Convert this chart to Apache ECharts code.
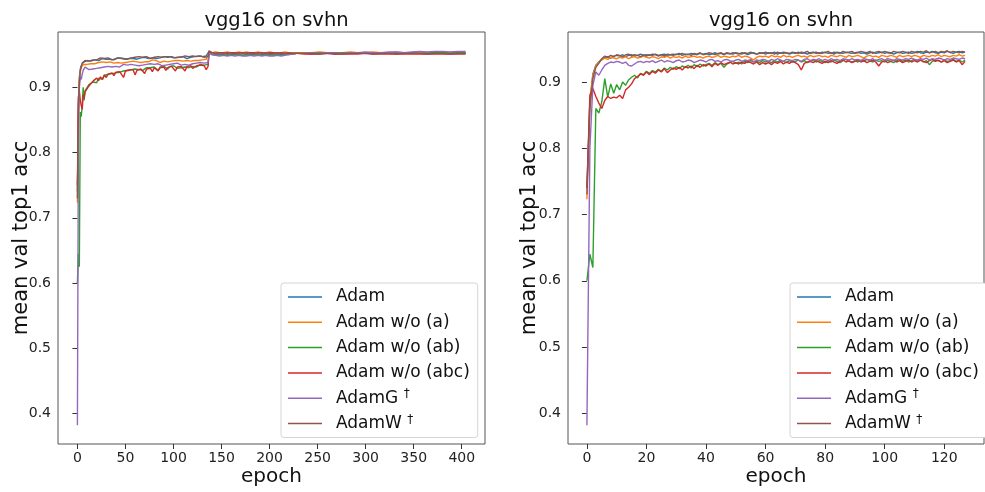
<!DOCTYPE html>
<html>
<head>
<meta charset="utf-8">
<script src="https://cdn.jsdelivr.net/npm/echarts@6/dist/echarts.min.js"></script>
<style>html,body{margin:0;padding:0;background:#fff}#c{width:985px;height:492px}</style>
</head>
<body>
<div id="c"></div>
<script>
// ---------- data ----------
const seriesNames = ['Adam', 'Adam w/o (a)', 'Adam w/o (ab)', 'Adam w/o (abc)', 'AdamG', 'AdamW'];
const chartTitle = 'vgg16 on svhn';
const xTicksLeft = [0, 50, 100, 150, 200, 250, 300, 350, 400];
const xTicksRight = [0, 20, 40, 60, 80, 100, 120];
const yTicks = [0.4, 0.5, 0.6, 0.7, 0.8, 0.9];

// left panel: epochs sampled (dense where noisy)
const leftEpochs = [0,1,2,3,4,5,6,7,8,
10,12,14,16,18,20,22,24,26,28,30,32,34,36,38,40,
42,44,46,48,50,52,54,56,58,60,62,64,66,68,70,72,
74,76,78,80,82,84,86,88,90,92,94,96,98,100,102,104,
106,108,110,112,114,116,118,120,122,124,126,128,130,132,134,136,
137,138,
140,144,148,152,156,160,164,168,172,176,180,184,188,192,196,200,204,208,212,216,220,224,228,
236,244,252,260,268,276,284,292,300,308,316,324,332,340,348,356,364,372,380,388,396,404];

const leftAdam = [0.740,0.870,0.915,0.928,0.933,0.936,0.938,0.940,0.939,
0.941,0.942,0.940,0.943,0.942,0.944,0.941,0.943,0.944,0.942,0.943,0.945,0.943,0.944,0.942,0.944,
0.945,0.943,0.944,0.946,0.943,0.945,0.944,0.946,0.944,0.945,0.943,0.946,0.945,0.944,0.946,0.945,
0.944,0.946,0.945,0.947,0.944,0.946,0.945,0.944,0.947,0.945,0.946,0.944,0.947,0.946,0.945,0.947,
0.946,0.945,0.947,0.946,0.944,0.947,0.946,0.945,0.947,0.946,0.948,0.945,0.947,0.946,0.948,0.946,
0.955,0.952,
0.951,0.950,0.951,0.950,0.949,0.950,0.951,0.950,0.949,0.950,0.951,0.950,0.949,0.950,0.950,0.951,0.949,0.950,0.950,0.951,0.950,0.951,0.952,
0.952,0.951,0.952,0.952,0.951,0.952,0.953,0.952,0.952,0.953,0.952,0.953,0.952,0.953,0.953,0.952,0.953,0.953,0.954,0.953,0.953,0.953];

const leftNoA = [0.723,0.876,0.910,0.924,0.930,0.933,0.935,0.934,0.936,
0.935,0.937,0.936,0.938,0.936,0.937,0.938,0.936,0.939,0.937,0.938,0.936,0.939,0.938,0.937,0.939,
0.938,0.940,0.937,0.939,0.938,0.940,0.939,0.937,0.940,0.938,0.939,0.941,0.938,0.940,0.939,0.941,
0.939,0.940,0.942,0.939,0.941,0.940,0.938,0.941,0.940,0.942,0.939,0.941,0.940,0.942,0.941,0.939,
0.941,0.942,0.940,0.942,0.941,0.943,0.940,0.942,0.941,0.943,0.941,0.939,0.942,0.941,0.943,0.940,
0.954,0.953,
0.953,0.954,0.953,0.953,0.954,0.953,0.953,0.954,0.953,0.954,0.953,0.953,0.954,0.953,0.953,0.954,0.953,0.953,0.953,0.954,0.953,0.953,0.953,
0.953,0.953,0.954,0.953,0.953,0.953,0.954,0.953,0.953,0.954,0.953,0.953,0.954,0.953,0.953,0.954,0.953,0.954,0.954,0.953,0.954,0.953];

const leftNoAB = [0.600,0.645,0.625,0.862,0.855,0.872,0.900,0.880,0.895,
0.898,0.904,0.901,0.908,0.911,0.907,0.914,0.916,0.912,0.918,0.915,0.920,0.917,0.921,0.918,0.922,
0.920,0.923,0.921,0.925,0.922,0.926,0.923,0.927,0.924,0.928,0.925,0.927,0.929,0.926,0.928,0.930,
0.927,0.930,0.928,0.931,0.929,0.926,0.931,0.929,0.932,0.930,0.928,0.932,0.930,0.933,0.931,0.929,
0.932,0.930,0.933,0.931,0.934,0.930,0.933,0.932,0.934,0.931,0.933,0.935,0.932,0.934,0.933,0.935,
0.954,0.951,
0.950,0.949,0.950,0.949,0.950,0.949,0.950,0.950,0.949,0.950,0.949,0.950,0.950,0.949,0.950,0.949,0.950,0.950,0.949,0.950,0.951,0.951,0.952,
0.952,0.952,0.953,0.952,0.952,0.953,0.952,0.953,0.952,0.953,0.953,0.952,0.953,0.953,0.953,0.952,0.953,0.953,0.953,0.953,0.953,0.953];

const leftNoABC = [0.750,0.885,0.895,0.880,0.872,0.866,0.888,0.884,0.893,
0.896,0.902,0.899,0.909,0.906,0.914,0.910,0.916,0.912,0.919,0.915,0.920,0.917,0.922,0.918,0.923,
0.920,0.924,0.921,0.915,0.925,0.922,0.926,0.923,0.927,0.919,0.926,0.924,0.928,0.925,0.921,0.928,
0.926,0.929,0.924,0.930,0.927,0.925,0.930,0.928,0.931,0.926,0.930,0.928,0.932,0.929,0.925,0.931,
0.929,0.932,0.930,0.925,0.932,0.930,0.933,0.929,0.931,0.933,0.930,0.934,0.931,0.933,0.927,0.932,
0.954,0.952,
0.953,0.952,0.953,0.953,0.952,0.953,0.953,0.952,0.953,0.952,0.953,0.953,0.952,0.953,0.952,0.953,0.953,0.952,0.953,0.952,0.952,0.952,0.952,
0.951,0.951,0.951,0.952,0.951,0.951,0.951,0.951,0.952,0.951,0.951,0.951,0.951,0.951,0.951,0.951,0.951,0.951,0.951,0.951,0.951,0.951];

const leftAdamG = [0.382,0.805,0.898,0.916,0.912,0.920,0.926,0.929,0.931,
0.930,0.927,0.925,0.928,0.931,0.929,0.932,0.930,0.933,0.931,0.929,0.932,0.934,0.931,0.933,0.932,
0.934,0.931,0.933,0.935,0.932,0.934,0.933,0.935,0.932,0.934,0.936,0.933,0.935,0.934,0.932,0.935,
0.934,0.936,0.933,0.935,0.934,0.936,0.935,0.933,0.936,0.934,0.937,0.935,0.934,0.936,0.935,0.937,
0.935,0.934,0.937,0.935,0.936,0.934,0.937,0.936,0.935,0.937,0.936,0.938,0.935,0.937,0.936,0.938,
0.953,0.951,
0.950,0.949,0.948,0.949,0.948,0.949,0.948,0.949,0.948,0.948,0.949,0.948,0.949,0.948,0.949,0.948,0.948,0.949,0.948,0.949,0.950,0.951,0.952,
0.952,0.953,0.952,0.953,0.953,0.952,0.953,0.953,0.954,0.953,0.953,0.954,0.954,0.953,0.954,0.955,0.954,0.955,0.955,0.954,0.955,0.955];

const leftAdamW = [0.730,0.862,0.908,0.925,0.932,0.937,0.940,0.939,0.941,
0.942,0.940,0.943,0.942,0.944,0.942,0.943,0.945,0.942,0.944,0.943,0.945,0.944,0.942,0.945,0.944,
0.943,0.945,0.946,0.944,0.945,0.943,0.946,0.945,0.944,0.946,0.945,0.947,0.944,0.946,0.945,0.947,
0.945,0.944,0.947,0.946,0.945,0.947,0.944,0.946,0.946,0.947,0.945,0.947,0.946,0.945,0.948,0.946,
0.947,0.946,0.945,0.948,0.946,0.947,0.945,0.948,0.946,0.947,0.946,0.948,0.947,0.946,0.948,0.947,
0.956,0.953,
0.953,0.952,0.953,0.952,0.953,0.952,0.952,0.953,0.952,0.953,0.952,0.952,0.953,0.952,0.953,0.952,0.952,0.953,0.952,0.952,0.953,0.952,0.952,
0.952,0.952,0.951,0.952,0.952,0.951,0.952,0.952,0.952,0.951,0.952,0.952,0.951,0.952,0.952,0.952,0.951,0.952,0.952,0.951,0.952,0.952];

// right panel: one value per epoch, epochs 0..127
const rightAdam = [0.740,0.870,0.912,0.925,0.930,0.934,0.937,0.938,0.936,0.939,
0.940,0.939,0.941,0.938,0.940,0.941,0.939,0.940,0.942,0.940,
0.941,0.940,0.942,0.941,0.939,0.941,0.942,0.940,0.941,0.942,
0.941,0.943,0.940,0.942,0.941,0.943,0.942,0.941,0.943,0.942,
0.943,0.941,0.942,0.944,0.942,0.943,0.941,0.943,0.942,0.944,
0.943,0.942,0.944,0.943,0.941,0.943,0.944,0.942,0.943,0.944,
0.942,0.944,0.943,0.945,0.942,0.944,0.943,0.944,0.942,0.944,
0.943,0.945,0.943,0.944,0.942,0.944,0.945,0.943,0.944,0.943,
0.945,0.943,0.944,0.942,0.945,0.944,0.943,0.945,0.944,0.943,
0.944,0.945,0.943,0.944,0.942,0.944,0.945,0.943,0.944,0.945,
0.943,0.945,0.944,0.942,0.944,0.945,0.943,0.944,0.945,0.943,
0.944,0.946,0.944,0.943,0.945,0.944,0.946,0.944,0.943,0.945,
0.944,0.946,0.945,0.943,0.945,0.946,0.944,0.945];

const rightNoA = [0.723,0.875,0.910,0.924,0.930,0.933,0.936,0.934,0.937,0.936,
0.935,0.937,0.936,0.938,0.935,0.937,0.938,0.936,0.937,0.939,
0.937,0.936,0.938,0.937,0.935,0.938,0.937,0.939,0.936,0.938,
0.937,0.938,0.936,0.939,0.937,0.938,0.939,0.937,0.938,0.936,
0.938,0.939,0.937,0.938,0.940,0.937,0.939,0.938,0.937,0.939,
0.938,0.940,0.937,0.939,0.938,0.936,0.933,0.937,0.939,0.938,
0.939,0.937,0.940,0.938,0.939,0.937,0.940,0.938,0.939,0.937,
0.939,0.940,0.938,0.939,0.937,0.940,0.938,0.939,0.940,0.938,
0.939,0.937,0.940,0.939,0.938,0.940,0.939,0.937,0.940,0.938,
0.939,0.940,0.938,0.936,0.939,0.940,0.938,0.939,0.937,0.940,
0.939,0.938,0.940,0.939,0.937,0.940,0.938,0.939,0.940,0.938,
0.940,0.939,0.937,0.940,0.939,0.938,0.940,0.939,0.941,0.938,
0.940,0.939,0.938,0.940,0.939,0.941,0.939,0.940];

const rightNoAB = [0.600,0.640,0.620,0.860,0.853,0.870,0.905,0.877,0.897,0.883,
0.896,0.888,0.900,0.895,0.903,0.907,0.910,0.906,0.913,0.911,
0.916,0.913,0.917,0.915,0.919,0.916,0.921,0.918,0.922,0.919,
0.923,0.920,0.924,0.922,0.925,0.921,0.926,0.923,0.927,0.924,
0.926,0.928,0.925,0.929,0.926,0.928,0.922,0.927,0.929,0.931,
0.928,0.930,0.927,0.931,0.929,0.932,0.930,0.931,0.929,0.932,
0.930,0.931,0.929,0.932,0.930,0.933,0.931,0.929,0.932,0.930,
0.931,0.933,0.930,0.932,0.929,0.931,0.933,0.930,0.932,0.931,
0.929,0.932,0.930,0.933,0.931,0.929,0.932,0.934,0.931,0.930,
0.932,0.930,0.933,0.931,0.934,0.932,0.930,0.933,0.931,0.932,
0.930,0.933,0.931,0.929,0.932,0.934,0.931,0.933,0.930,0.932,
0.934,0.931,0.933,0.930,0.932,0.926,0.931,0.933,0.932,0.930,
0.933,0.931,0.932,0.934,0.931,0.933,0.930,0.933];

const rightNoABC = [0.740,0.880,0.890,0.878,0.868,0.860,0.872,0.878,0.875,0.877,
0.876,0.880,0.875,0.888,0.892,0.897,0.905,0.908,0.912,0.910,
0.915,0.911,0.916,0.913,0.918,0.915,0.920,0.914,0.918,0.921,
0.919,0.922,0.918,0.923,0.921,0.924,0.920,0.925,0.922,0.926,
0.924,0.927,0.923,0.928,0.925,0.929,0.926,0.928,0.930,0.927,
0.929,0.927,0.930,0.928,0.931,0.929,0.927,0.930,0.926,0.929,
0.927,0.929,0.926,0.930,0.928,0.931,0.927,0.930,0.928,0.931,
0.929,0.926,0.918,0.928,0.930,0.931,0.929,0.932,0.930,0.928,
0.931,0.929,0.932,0.930,0.928,0.931,0.933,0.930,0.932,0.929,
0.931,0.933,0.930,0.932,0.929,0.931,0.933,0.930,0.924,0.930,
0.932,0.929,0.931,0.933,0.930,0.932,0.929,0.931,0.933,0.930,
0.932,0.930,0.933,0.931,0.929,0.932,0.934,0.931,0.933,0.930,
0.932,0.929,0.931,0.933,0.930,0.932,0.926,0.931];

const rightAdamG = [0.382,0.800,0.895,0.915,0.910,0.918,0.925,0.928,0.930,0.929,
0.931,0.930,0.928,0.930,0.925,0.924,0.927,0.930,0.931,0.929,
0.931,0.930,0.932,0.929,0.931,0.933,0.930,0.932,0.931,0.929,
0.932,0.933,0.930,0.931,0.933,0.932,0.929,0.931,0.933,0.932,
0.930,0.933,0.934,0.931,0.932,0.930,0.933,0.934,0.932,0.931,
0.933,0.934,0.931,0.933,0.932,0.934,0.930,0.933,0.932,0.934,
0.933,0.931,0.934,0.932,0.935,0.933,0.931,0.934,0.933,0.932,
0.934,0.933,0.931,0.934,0.935,0.932,0.934,0.933,0.935,0.932,
0.934,0.932,0.935,0.933,0.934,0.932,0.935,0.934,0.933,0.935,
0.933,0.934,0.932,0.935,0.934,0.933,0.935,0.932,0.934,0.935,
0.933,0.935,0.934,0.932,0.935,0.934,0.933,0.935,0.934,0.936,
0.934,0.933,0.935,0.934,0.936,0.933,0.935,0.934,0.936,0.935,
0.933,0.935,0.934,0.936,0.935,0.934,0.936,0.935];

const rightAdamW = [0.730,0.860,0.905,0.922,0.928,0.935,0.939,0.937,0.940,0.938,
0.941,0.940,0.938,0.941,0.942,0.939,0.941,0.940,0.938,0.941,
0.939,0.941,0.940,0.942,0.940,0.941,0.939,0.942,0.941,0.940,
0.942,0.941,0.943,0.941,0.942,0.940,0.943,0.942,0.944,0.941,
0.942,0.944,0.943,0.941,0.943,0.944,0.942,0.944,0.943,0.942,
0.944,0.943,0.942,0.944,0.943,0.945,0.943,0.942,0.944,0.943,
0.945,0.943,0.944,0.942,0.945,0.943,0.945,0.944,0.943,0.945,
0.944,0.943,0.945,0.944,0.946,0.943,0.944,0.945,0.943,0.945,
0.944,0.946,0.943,0.945,0.944,0.943,0.946,0.944,0.945,0.946,
0.943,0.944,0.946,0.945,0.944,0.946,0.943,0.945,0.946,0.944,
0.946,0.944,0.943,0.946,0.945,0.944,0.946,0.945,0.943,0.946,
0.945,0.944,0.946,0.945,0.947,0.944,0.945,0.946,0.944,0.946,
0.945,0.947,0.944,0.946,0.945,0.944,0.946,0.945];

// ---------- chart ----------
const colors = ['#1f77b4', '#ff7f0e', '#2ca02c', '#d62728', '#9467bd', '#8c564b'];
const leftValues = [leftAdam, leftNoA, leftNoAB, leftNoABC, leftAdamG, leftAdamW];
const rightValues = [rightAdam, rightNoA, rightNoAB, rightNoABC, rightAdamG, rightAdamW];
const FONT = 'DejaVu Sans';

function makeSeries(idx, xs, vals, k) {
  return {
    type: 'line', name: seriesNames[k], xAxisIndex: idx, yAxisIndex: idx,
    data: vals.map((v, i) => [xs ? xs[i] : i, v]),
    symbol: 'none', showSymbol: false, animation: false,
    lineStyle: { width: 1.4, color: colors[k] }, itemStyle: { color: colors[k] },
    emphasis: { disabled: true }
  };
}
const series = [];
leftValues.forEach((v, k) => series.push(makeSeries(0, leftEpochs, v, k)));
rightValues.forEach((v, k) => series.push(makeSeries(1, null, v, k)));

function xAxisCfg(idx, min, max, ticks) {
  return {
    type: 'value', gridIndex: idx, min: min, max: max,
    name: 'epoch', nameLocation: 'middle', nameGap: 23, nameMoveOverlap: false,
    nameTextStyle: { fontSize: 20, fontFamily: FONT, color: '#111' },
    axisLine: { show: false },
    splitLine: { show: false },
    axisTick: { show: true, length: 5, lineStyle: { color: '#333' }, customValues: ticks },
    axisLabel: { fontSize: 14, fontFamily: FONT, color: '#222', margin: 7, customValues: ticks }
  };
}
function yAxisCfg(idx, min, max, gap) {
  return {
    type: 'value', gridIndex: idx, min: min, max: max,
    name: 'mean val top1 acc', nameLocation: 'middle', nameGap: gap, nameMoveOverlap: false,
    nameTextStyle: { fontSize: 21, fontFamily: FONT, color: '#111' },
    axisLine: { show: false },
    splitLine: { show: false },
    axisTick: { show: true, length: 5, lineStyle: { color: '#333' }, customValues: yTicks },
    axisLabel: { fontSize: 14, fontFamily: FONT, color: '#222', margin: 7, customValues: yTicks,
      formatter: v => v.toFixed(1) }
  };
}
function legendCfg(left) {
  return {
    left: left, top: 283, orient: 'vertical', data: seriesNames,
    icon: 'rect', itemWidth: 34, itemHeight: 1.5, itemGap: 5.3,
    padding: [4, 8, 4, 7],
    backgroundColor: '#fff', borderColor: '#d5d5d5', borderWidth: 1, borderRadius: 3,
    selectedMode: false,
    formatter: n => (n === 'AdamG' || n === 'AdamW') ? n + ' {s|†}' : n,
    textStyle: { fontSize: 17, fontFamily: FONT, color: '#111', lineHeight: 20, padding: [0, 0, 0, 9],
      rich: { s: { fontSize: 12, fontFamily: FONT, color: '#111', verticalAlign: 'top', lineHeight: 12 } } }
  };
}

const option = {
  animation: false,
  backgroundColor: '#fff',
  title: [
    { text: chartTitle, left: 271.5, top: 6, textAlign: 'center',
      textStyle: { fontSize: 19.5, fontWeight: 'normal', fontFamily: FONT, color: '#111' } },
    { text: chartTitle, left: 776, top: 6, textAlign: 'center',
      textStyle: { fontSize: 19.5, fontWeight: 'normal', fontFamily: FONT, color: '#111' } }
  ],
  grid: [
    { left: 58, top: 32, width: 427, height: 415, show: true, borderColor: '#555', borderWidth: 1, backgroundColor: 'transparent' },
    { left: 568, top: 32, width: 416, height: 415, show: true, borderColor: '#555', borderWidth: 1, backgroundColor: 'transparent' }
  ],
  xAxis: [xAxisCfg(0, -20.2, 424.2, xTicksLeft), xAxisCfg(1, -6.35, 133.35, xTicksRight)],
  yAxis: [yAxisCfg(0, 0.3533, 0.9847, 26), yAxisCfg(1, 0.3537, 0.9753, 28)],
  legend: [legendCfg(281), legendCfg(790)],
  series: series
};

const chart = echarts.init(document.getElementById('c'), null, { renderer: 'canvas' });
chart.setOption(option);
</script>
</body>
</html>
